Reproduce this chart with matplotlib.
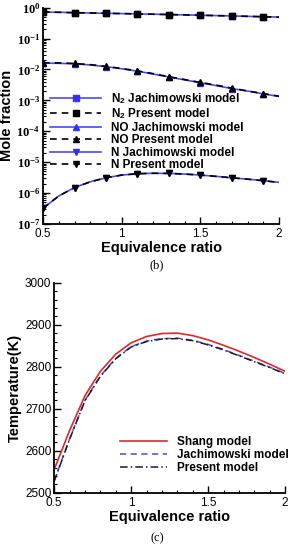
import numpy as np
import matplotlib
matplotlib.use('Agg')
import matplotlib.pyplot as plt
from matplotlib.ticker import FuncFormatter, MultipleLocator, LogLocator, NullFormatter

plt.rcParams['font.family'] = 'Liberation Sans'
plt.rcParams['mathtext.fontset'] = 'custom'
plt.rcParams['mathtext.rm'] = 'Liberation Serif:bold'
plt.rcParams['mathtext.sf'] = 'Liberation Sans:bold'
plt.rcParams['mathtext.default'] = 'rm'

# equivalence ratio
phi = [0.5, 0.6, 0.7, 0.8, 0.9, 1.0, 1.1, 1.2, 1.3, 1.4, 1.5, 1.6, 1.7, 1.8, 1.9, 2.0]

# mole fractions (b)
n2_jach = [0.72, 0.71, 0.69, 0.675, 0.66, 0.645, 0.63, 0.615, 0.60, 0.585, 0.57, 0.555, 0.54, 0.525, 0.51, 0.495]
n2_pres = [0.72, 0.71, 0.69, 0.675, 0.66, 0.645, 0.63, 0.615, 0.60, 0.585, 0.57, 0.555, 0.54, 0.525, 0.51, 0.495]
no_jach = [0.0160, 0.0158, 0.0152, 0.0140, 0.0123, 0.0105, 0.0088, 0.0071, 0.0057, 0.0046, 0.0037, 0.0030, 0.0024, 0.0020, 0.00162, 0.00133]
no_pres = [0.0166, 0.0163, 0.0156, 0.0143, 0.0126, 0.0107, 0.0090, 0.0073, 0.0058, 0.0047, 0.0038, 0.0031, 0.0025, 0.0020, 0.00166, 0.00136]
n_jach = [3.2e-7, 8.0e-7, 1.5e-6, 2.3e-6, 3.1e-6, 3.8e-6, 4.2e-6, 4.35e-6, 4.3e-6, 4.1e-6, 3.8e-6, 3.45e-6, 3.1e-6, 2.8e-6, 2.5e-6, 2.2e-6]
n_pres = [3.2e-7, 8.0e-7, 1.5e-6, 2.3e-6, 3.1e-6, 3.8e-6, 4.2e-6, 4.35e-6, 4.3e-6, 4.1e-6, 3.8e-6, 3.45e-6, 3.1e-6, 2.8e-6, 2.5e-6, 2.2e-6]

# temperature (c)
t_shang = [2555, 2648, 2731, 2789, 2830, 2857, 2872, 2879, 2880, 2874, 2864, 2851, 2837, 2822, 2806, 2789]
t_jach = [2528, 2628, 2720, 2778, 2820, 2848, 2861, 2867, 2868, 2863, 2853, 2841, 2827, 2813, 2799, 2784]
t_pres = [2527, 2627, 2719, 2777, 2819, 2847, 2860, 2866, 2867, 2862, 2852, 2840, 2826, 2812, 2798, 2783]

blue = '#4a4af0'
mk = dict(markevery=slice(0, 15, 2), markersize=5)

fig = plt.figure(figsize=(2.91, 5.5), dpi=100)

# ---- (b) mole fraction ----
ax1 = fig.add_axes([0.148, 0.593, 0.811, 0.393])
ax1.plot(phi, n2_jach, color=blue, lw=1.2, marker='s', mfc='#3030ff', mec='#3030ff',
         label=r'N$_\mathsf{2}$ Jachimowski model', **mk)
ax1.plot(phi, n2_pres, color='k', lw=1.2, ls=(0, (4, 3)), marker='s', mfc='k', mec='k',
         label=r'N$_\mathsf{2}$ Present model', **mk)
ax1.plot(phi, no_jach, color=blue, lw=1.2, marker='^', mfc='#3030ff', mec='#3030ff',
         label='NO Jachimowski model', **mk)
ax1.plot(phi, no_pres, color='k', lw=1.2, ls=(0, (4, 3)), marker='^', mfc='k', mec='k',
         label='NO Present model', **mk)
ax1.plot(phi, n_jach, color=blue, lw=1.2, marker='v', mfc='#3030ff', mec='#3030ff',
         label='N Jachimowski model', **mk)
ax1.plot(phi, n_pres, color='k', lw=1.2, ls=(0, (4, 3)), marker='v', mfc='k', mec='k',
         label='N Present model', **mk)
ax1.set_yscale('log')
ax1.set_xlim(0.5, 2)
ax1.set_ylim(1e-7, 1)
ax1.yaxis.set_major_locator(LogLocator(base=10, numticks=10))
ax1.yaxis.set_minor_locator(LogLocator(base=10, subs=np.arange(2, 10), numticks=20))
ax1.yaxis.set_minor_formatter(NullFormatter())
ax1.yaxis.set_major_formatter(FuncFormatter(lambda v, p: r'$10^{%d}$' % round(np.log10(v))))
ax1.xaxis.set_major_locator(MultipleLocator(0.5))
ax1.xaxis.set_minor_locator(MultipleLocator(0.1))
ax1.xaxis.set_major_formatter(FuncFormatter(lambda v, p: '%g' % v))
ax1.set_xlabel('Equivalence ratio', fontsize=10.5, fontweight='bold', labelpad=1)
ax1.set_ylabel('Mole fraction', fontsize=10.5, fontweight='bold', labelpad=2)
ax1.legend(loc='upper left', bbox_to_anchor=(0.03, 0.615), frameon=False,
           prop={'weight': 'bold', 'size': 8.5}, handlelength=4.3, handletextpad=0.85,
           labelspacing=0.05, borderpad=0, borderaxespad=0)

# ---- (c) temperature ----
ax2 = fig.add_axes([0.186, 0.104, 0.794, 0.382])
ax2.plot(phi, t_shang, color='#e02828', lw=1.2, label='Shang model')
ax2.plot(phi, t_jach, color='#4a4ac8', lw=1.1, ls=(0, (4, 3)), label='Jachimowski model')
ax2.plot(phi, t_pres, color='#1a1a30', lw=1.1, ls=(0, (5, 2, 1, 2)), label='Present model')
ax2.set_xlim(0.5, 2)
ax2.set_ylim(2500, 3000)
ax2.xaxis.set_major_locator(MultipleLocator(0.5))
ax2.xaxis.set_minor_locator(MultipleLocator(0.1))
ax2.xaxis.set_major_formatter(FuncFormatter(lambda v, p: '%g' % v))
ax2.yaxis.set_major_locator(MultipleLocator(100))
ax2.yaxis.set_minor_locator(MultipleLocator(20))
ax2.set_xlabel('Equivalence ratio', fontsize=10.5, fontweight='bold', labelpad=1)
ax2.set_ylabel('Temperature(K)', fontsize=10.5, fontweight='bold', labelpad=2)
ax2.legend(loc='upper left', bbox_to_anchor=(0.286, 0.268), frameon=False,
           prop={'weight': 'bold', 'size': 8.5}, handlelength=4.0, handletextpad=0.85,
           labelspacing=0.08, borderpad=0, borderaxespad=0)

for ax in (ax1, ax2):
    for s in ('top', 'right'):
        ax.spines[s].set_visible(False)
    for s in ('left', 'bottom'):
        ax.spines[s].set_linewidth(1.3)
    ax.tick_params(which='major', direction='in', length=5, width=1, labelsize=8.5, pad=2)
    ax.tick_params(which='minor', direction='in', length=2.5, width=0.8)
    ax.tick_params(axis='x', pad=3)
ax1.tick_params(axis='y', labelsize=9)

fig.text(0.54, 0.518, '(b)', family='Liberation Serif', fontsize=9, ha='center', va='center')
fig.text(0.54, 0.022, '(c)', family='Liberation Serif', fontsize=9, ha='center', va='center')

fig.savefig('out.png', dpi=100)
